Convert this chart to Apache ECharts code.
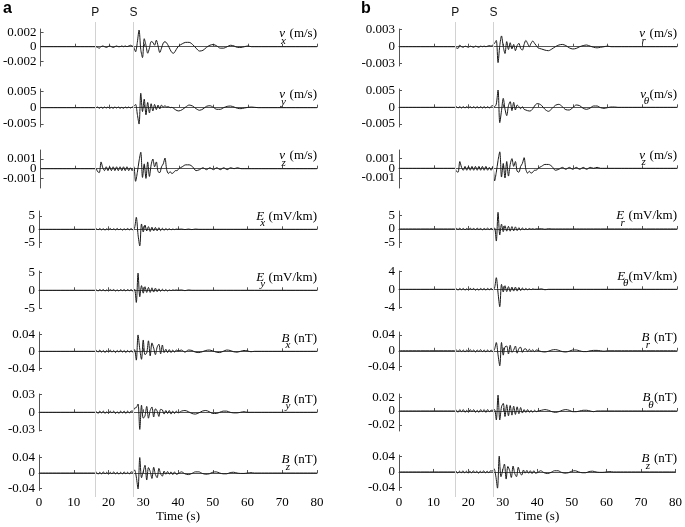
<!DOCTYPE html>
<html lang="en">
<head>
<meta charset="UTF-8">
<title>Seismic and electromagnetic waveforms</title>
<script src="https://cdn.jsdelivr.net/npm/echarts@6/dist/echarts.min.js"></script>
<style>html,body{margin:0;padding:0;background:#fff;}</style>
</head>
<body>
<div id="main" style="width:685px;height:527px;"></div>
<script>
// sample times (s)
const times = [0,16,16.5,17,17.5,18,18.5,19,19.5,20,20.5,21,21.5,22,22.5,23,23.5,24,24.5,25,25.5,26,26.5,
  27,27.5,28,28.5,29,29.5,30,30.5,31,31.5,32,32.5,33,33.5,34,34.5,35,35.5,36,36.5,37,37.5,38,38.5,39,39.5,40,
  41,42,43,44,45,46,47,48,49,50,51,52,53,54,55,56,57,58,59,60,61,62,63,64,80];

// velocities in 1e-4 m/s
const vx = [0, 0,-1,-2,0,1,0,-1,0,1,0,-1,0,1,0,0,1,0,1,0,1,2,1,
  -1,-7,6,23,-4,-15,11,2,-9,-2,7,6,2,9,1,-8,-2,5,7,5,1,-4,-8,-9,-6,-2,1,
  4,6,6,3,-2,-6,-5,-1,2,3,1,-2,-2,0,2,1,-1,-1,0,1,0,0,0,0, 0];
const vy = [0, 0,2,-2,2,-2,2,-1,2,-2,1,-2,2,-1,2,-2,1,-2,2,-1,2,-1,2,
  4,10,-20,-50,44,-12,26,-22,16,-16,12,-10,10,-6,8,-4,8,2,6,2,3,0,1,-2,-6,-9,-10,
  -6,2,8,5,-3,-8,-4,4,6,1,-5,-5,0,4,5,2,-2,-3,-1,1,2,1,0,0, 0];
const vz = [0, 0,-3,-4,7,1,-2,2,-2,2,-2,2,-2,2,-2,2,-2,2,-2,2,-2,1,-2,
  2,-13,-4,8,17,-9,5,-10,7,-8,4,10,2,7,-3,-4,2,5,11,-1,-5,-3,-5,-4,-2,-2,0,
  2,4,4,2,-2,-1,1,-1,1,-1,1,-1,1,-1,1,0,1,0,0,0,0,0,0,0, 0];
const vr = [0, 0,-2,-3,3,0,-1,1,0,-1,1,0,-1,1,0,-1,1,0,1,0,1,2,1,
  3,6,11,-28,2,19,0,-12,9,-5,7,-4,4,-7,2,6,-3,-6,4,11,6,0,6,10,6,2,-2,
  -4,-6,-7,-4,0,3,4,2,-2,-4,-3,0,2,3,1,-1,-2,-1,0,1,0,0,0,0, 0];
const vth = [0, 0,2,-2,2,-2,2,-2,2,-2,2,-2,2,-2,2,-2,2,-2,2,-2,2,-2,3,
  5,2,10,52,-46,-10,27,-5,-25,5,17,-10,15,-8,7,2,-4,2,-6,-8,-10,-11,-10,-4,4,10,11,
  6,-6,-12,-4,6,9,2,-7,-8,-1,7,5,-3,-6,-2,4,4,-1,-3,-1,1,1,0,0, 0];

// electric field in 0.1 mV/km
const Ex = [0, 0,2,-2,3,-2,2,-3,2,-2,3,-2,2,-2,3,-2,2,-3,2,-2,3,-2,3,
  -2,5,45,-20,-62,20,-10,16,-6,10,-8,8,-6,7,-6,6,-5,4,-4,3,-2,2,-2,1,-1,1,0,
  1,-1,1,-1,1,0,0,0,0,0,0,0,0,0,0,0,0,0,0,0,0,0,0,0, 0];
const Ey = [0, 0,1,-2,2,-1,2,-2,1,-2,2,-1,2,-2,1,-2,2,-1,2,-2,2,-1,2,
  -2,3,-34,48,-18,13,-8,10,-6,8,-6,7,-5,6,-4,4,-3,3,-2,2,-2,1,-1,1,0,1,0,
  1,-1,1,0,0,0,0,0,0,0,0,0,0,0,0,0,0,0,0,0,0,0,0,0, 0];
const Er = [0, 0,2,-2,3,-2,2,-3,2,-2,3,-2,2,-2,3,-2,2,-3,2,-2,3,-2,3,
  -2,4,-45,62,-22,18,-10,12,-8,10,-8,9,-7,8,-6,5,-4,4,-3,2,-2,2,-1,1,-1,1,0,
  1,-1,1,0,0,0,0,0,0,0,0,0,0,0,0,0,0,0,0,0,0,0,0,0, 0];
const Eth = [0, 0,1,-2,2,-1,2,-2,1,-2,2,-1,2,-2,1,-2,2,-1,2,-2,2,-1,2,
  -1,3,26,-8,-39,11,-6,8,-5,6,-5,5,-4,5,-4,4,-3,3,-2,2,-1,1,-1,1,0,0,0,
  1,-1,0,0,0,0,0,0,0,0,0,0,0,0,0,0,0,0,0,0,0,0,0,0, 0];

// magnetic field in 1e-3 nT
const Bx = [0, 0,2,-2,3,-2,2,-3,2,-2,3,-2,2,-3,2,-2,3,-2,2,-3,2,-2,2,
  -2,4,-21,39,5,-19,27,-8,-4,25,-11,20,8,-8,10,17,-6,15,-3,5,-3,4,-3,3,-2,3,1,
  3,-2,3,2,-2,-3,-1,2,3,1,-2,-3,0,3,2,-1,-2,0,2,1,-1,0,0,0, 0];
const By = [0, 0,1,-2,2,-1,2,-2,1,-2,2,-1,2,-2,1,-2,2,-1,2,-2,2,-1,2,
  2,7,8,14,-29,12,-10,-6,10,-10,3,9,-8,6,2,-7,5,4,-3,3,-2,3,-3,2,-2,2,-1,
  2,3,1,-2,-3,-1,2,3,1,-2,-2,0,2,2,0,-1,-1,0,1,0,0,0,0,0, 0];
const Bz = [0, 0,2,-3,2,-2,3,-2,2,-3,2,-2,3,-2,2,-3,2,-2,3,-2,2,-2,3,
  2,8,-10,-41,40,-12,4,20,-18,14,4,-14,15,-4,-12,12,-2,-8,5,-3,4,-3,3,-4,3,-3,-2,
  3,-2,-4,-1,3,3,-1,-3,-2,2,3,0,-2,-2,1,2,0,-1,-1,0,1,0,0,0, 0];
const Br = [0, 0,2,-2,3,-2,2,-3,2,-2,3,-2,2,-3,2,-2,3,-2,2,-3,2,-2,2,
  -2,4,21,-10,-38,21,-11,10,12,-8,14,-4,2,12,-6,6,9,-4,4,5,-2,4,-2,3,-2,2,1,
  -2,-3,-1,2,3,1,-2,-3,-1,2,2,0,-2,-2,0,1,1,0,-1,0,0,0,0,0, 0];
const Bth = [0, 0,1,-2,2,-1,2,-2,1,-2,2,-1,2,-2,1,-2,2,-1,2,-2,2,-1,1,
  1,2,-13,23,-13,6,11,-8,9,-7,8,-6,7,-5,6,-4,5,-3,2,-2,2,-2,1,-2,1,-1,0,
  1,2,1,-1,-2,-1,1,2,1,-1,-1,0,1,1,0,-1,0,0,0,0,0,0,0,0, 0];

const pArrival = 16.2;
const sArrival = 27.2;

const leftTraces = [vx, vy, vz, Ex, Ey, Bx, By, Bz];
const rightTraces = [vr, vth, vz, Er, Eth, Br, Bth, Bz];
const leftNames = [['v','x','(m/s)'],['v','y','(m/s)'],['v','z','(m/s)'],['E','x','(mV/km)'],
  ['E','y','(mV/km)'],['B','x','(nT)'],['B','y','(nT)'],['B','z','(nT)']];
const rightNames = [['v','r','(m/s)'],['v','θ','(m/s)'],['v','z','(m/s)'],['E','r','(mV/km)'],
  ['E','θ','(mV/km)'],['B','r','(nT)'],['B','θ','(nT)'],['B','z','(nT)']];
const leftTicks = [20, 50, 10, 50, 50, 40, 30, 40];
const leftTickLabels = ['0.002','0.005','0.001','5','5','0.04','0.03','0.04'];
const rightTicks = [30, 50, 10, 50, 40, 40, 20, 40];
const rightTickLabels = ['0.003','0.005','0.001','5','4','0.04','0.02','0.04'];

// layout
const rowTop = [29, 89, 150, 211, 271, 332, 394, 455];
const rowBottom = [66, 127, 188, 247.5, 308.5, 370.5, 431, 490.5];
const leftRange = [[-26.6,24.4],[-59,57],[-19.9,19.3],[-68,68.5],[-51,54],[-45.7,46],[-31.7,31],[-45,46.5]];
const rightRange = [[-34,31.2],[-59,55],[-20.3,18.9],[-69,67],[-43,41],[-50,47.7],[-29,24.6],[-47,43]];
const panelLeft = [39, 399];
const panelWidth = 278;

const serif = '"Liberation Serif", "Times New Roman", serif';
const sans = '"Liberation Sans", Arial, sans-serif';
const axisColor = '#555';

const grids = [], xAxes = [], yAxes = [], series = [], graphics = [];
const ctx = document.createElement('canvas').getContext('2d');

function valueAxis(gi, range, values, labels, showLine) {
  return {
    type: 'value', gridIndex: gi, position: 'left', min: range[0], max: range[1],
    axisLine: {show: showLine, onZero: false, lineStyle: {color: axisColor, width: 1}},
    axisTick: {show: true, inside: true, length: 3, customValues: values, lineStyle: {color: axisColor}},
    axisLabel: {customValues: values, margin: 4, fontFamily: serif, fontSize: 13, color: '#000',
      formatter: v => labels[values.indexOf(v)]},
    splitLine: {show: false}
  };
}

[[leftTraces, leftNames, leftTicks, leftTickLabels, leftRange],
 [rightTraces, rightNames, rightTicks, rightTickLabels, rightRange]].forEach((panel, p) => {
  const [traces, names, ticks, tickLabels, ranges] = panel;
  traces.forEach((vals, r) => {
    const gi = grids.length;
    const last = r === traces.length - 1;
    grids.push({left: panelLeft[p], width: panelWidth, top: rowTop[r], height: rowBottom[r] - rowTop[r]});
    xAxes.push({
      type: 'value', gridIndex: gi, min: 0, max: 80, interval: 10,
      axisLine: {lineStyle: {color: axisColor, width: 1}},
      axisTick: {inside: true, length: 3, lineStyle: {color: axisColor}},
      axisLabel: {show: last, margin: 6, fontFamily: serif, fontSize: 13, color: '#000'},
      splitLine: {show: false},
      name: last ? 'Time (s)' : '', nameLocation: 'middle', nameGap: 20,
      nameTextStyle: {fontFamily: serif, fontSize: 13, color: '#000'}
    });
    // zero label on the main axis, the +/- labels on a twin axis so close labels are not dropped
    const yi = yAxes.length;
    yAxes.push(valueAxis(gi, ranges[r], [0], ['0'], true));
    yAxes.push(valueAxis(gi, ranges[r], [-ticks[r], ticks[r]], ['-' + tickLabels[r], tickLabels[r]], false));
    series.push({
      type: 'line', xAxisIndex: gi, yAxisIndex: yi, z: 3,
      data: times.map((t, i) => [t, vals[i]]),
      showSymbol: false, smooth: 0.3, animation: false,
      lineStyle: {color: '#1a1a1a', width: 1}
    });

    // channel label
    const [lo, hi] = ranges[r];
    const zeroY = rowTop[r] + hi / (hi - lo) * (rowBottom[r] - rowTop[r]);
    const y = zeroY - 13;
    const right = panelLeft[p] + panelWidth;
    ctx.font = '13px ' + serif;
    const unitLeft = right - ctx.measureText(names[r][2]).width;
    const greek = names[r][1] === 'θ';
    const subX = unitLeft - (greek ? 3 : 6);
    const letterRight = subX + (greek ? -0.5 : 1.5);
    graphics.push(
      {type: 'text', x: right, y: y, style: {text: names[r][2], font: '13px ' + serif, fill: '#000', align: 'right', verticalAlign: 'middle'}},
      {type: 'text', x: letterRight, y: y, style: {text: names[r][0], font: 'italic 13px ' + serif, fill: '#000', align: 'right', verticalAlign: 'middle'}},
      {type: 'text', x: subX, y: y + 7, style: {text: names[r][1], font: 'italic 11px ' + serif, fill: '#000', align: 'center', verticalAlign: 'middle'}}
    );
  });
});

// P and S arrival lines, one overlay grid per panel
panelLeft.forEach(left => {
  const gi = grids.length;
  grids.push({left: left, width: panelWidth, top: 22, height: 475});
  xAxes.push({type: 'value', gridIndex: gi, min: 0, max: 80, show: false});
  const yi = yAxes.length;
  yAxes.push({type: 'value', gridIndex: gi, min: 0, max: 1, show: false});
  series.push({
    type: 'line', xAxisIndex: gi, yAxisIndex: yi, z: 1, data: [], animation: false,
    markLine: {
      silent: true, symbol: 'none', animation: false,
      lineStyle: {color: '#d2d2d2', width: 1, type: 'solid'},
      label: {show: true, position: 'end', formatter: '{b}', distance: 3,
        fontFamily: sans, fontSize: 12, color: '#111'},
      data: [{name: 'P', xAxis: pArrival}, {name: 'S', xAxis: sArrival}]
    }
  });
});

graphics.push(
  {type: 'text', x: 3, y: 1, style: {text: 'a', font: 'bold 16px ' + sans, fill: '#000', verticalAlign: 'top'}},
  {type: 'text', x: 361, y: 1, style: {text: 'b', font: 'bold 16px ' + sans, fill: '#000', verticalAlign: 'top'}}
);

const chart = echarts.init(document.getElementById('main'));
chart.setOption({
  animation: false,
  backgroundColor: '#fff',
  grid: grids,
  xAxis: xAxes,
  yAxis: yAxes,
  series: series,
  graphic: graphics
});
</script>
</body>
</html>
